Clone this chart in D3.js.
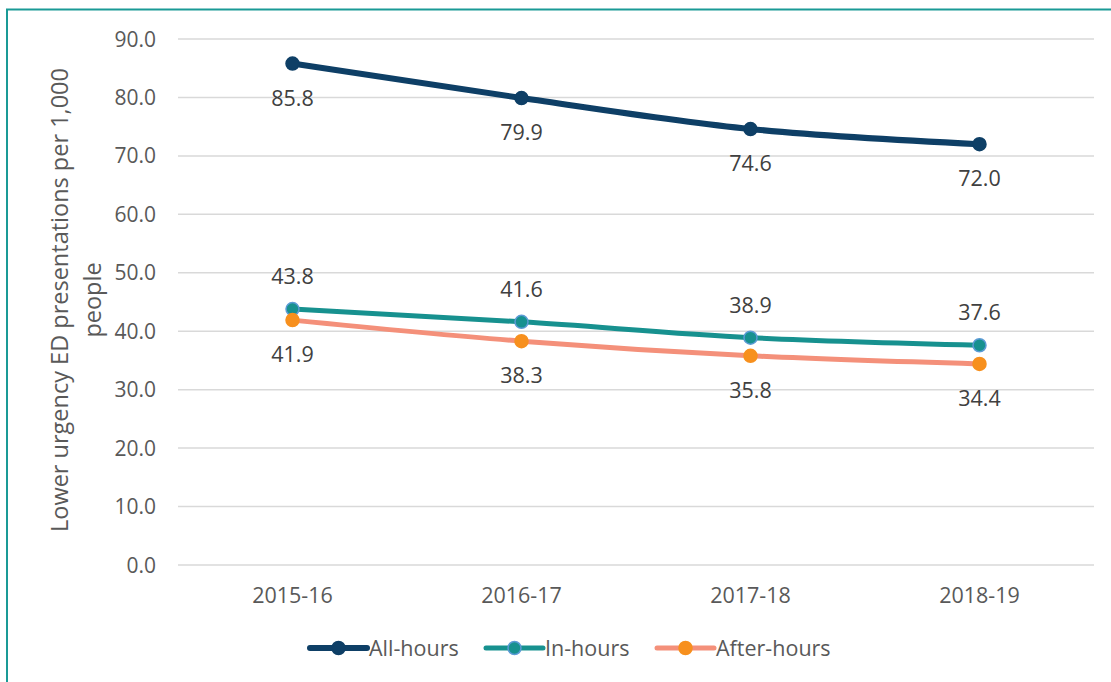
<!DOCTYPE html>
<html lang="en">
<head>
<meta charset="UTF-8">
<title>Lower urgency ED presentations</title>
<script src="https://d3js.org/d3.v7.min.js"></script>
<style>
    body { margin: 0; background: #fff; }
    text { font-family: "Open Sans", "Liberation Sans", sans-serif; fill: #595959; }
</style>
</head>
<body>
<div id="chart"></div>
<script>
const years = ["2015-16", "2016-17", "2017-18", "2018-19"];
const allHours = [85.8, 79.9, 74.6, 72.0];
const inHours = [43.8, 41.6, 38.9, 37.6];
const afterHours = [41.9, 38.3, 35.8, 34.4];
const yTicks = [0, 10, 20, 30, 40, 50, 60, 70, 80, 90];

const series = [
    { name: "All-hours", values: allHours, line: "#0e3f66", marker: "#0e3f66", stroke: "#0e3f66", width: 6, labelPos: "below" },
    { name: "In-hours", values: inHours, line: "#17918f", marker: "#17918f", stroke: "#5b9bd5", width: 5, labelPos: "above" },
    { name: "After-hours", values: afterHours, line: "#f4907a", marker: "#f7901e", stroke: "#f7901e", width: 5, labelPos: "below" }
];

const width = 1111, height = 682;
const svg = d3.select("#chart").append("svg")
    .attr("width", width)
    .attr("height", height);

// outer frame
svg.append("rect")
    .attr("x", 7).attr("y", 9.5)
    .attr("width", 1120).attr("height", 700)
    .attr("fill", "none")
    .attr("stroke", "#1a9a96")
    .attr("stroke-width", 2);

const x = d3.scaleBand().domain(years).range([178, 1094]);
const y = d3.scaleLinear().domain([0, 90]).range([565, 39]);

// grid
svg.append("g")
    .selectAll("line")
    .data(yTicks)
    .enter().append("line")
    .attr("x1", 178).attr("x2", 1094)
    .attr("y1", d => y(d)).attr("y2", d => y(d))
    .attr("stroke", "#d9d9d9")
    .attr("stroke-width", 1.5);

// y tick labels
svg.append("g")
    .selectAll("text")
    .data(yTicks)
    .enter().append("text")
    .attr("x", 156)
    .attr("y", d => y(d))
    .attr("dy", "0.36em")
    .attr("text-anchor", "end")
    .style("font-size", "21px")
    .text(d => d.toFixed(1));

// x tick labels
svg.append("g")
    .selectAll("text")
    .data(years)
    .enter().append("text")
    .attr("x", d => x(d) + x.bandwidth() / 2)
    .attr("y", 603)
    .attr("text-anchor", "middle")
    .style("font-size", "21.5px")
    .text(d => d);

// y axis title
const title = svg.append("text")
    .attr("transform", "translate(68, 300) rotate(-90)")
    .attr("text-anchor", "middle")
    .style("font-size", "23.5px");
title.append("tspan").attr("x", 0).attr("dy", 0).text("Lower urgency ED presentations per 1,000");
title.append("tspan").attr("x", 0).attr("dy", 33).text("people");

const cx = d => x(d) + x.bandwidth() / 2;

series.forEach(s => {
    const pts = s.values.map((v, i) => [cx(years[i]), y(v)]);
    svg.append("path")
        .attr("d", d3.line().curve(d3.curveMonotoneX)(pts))
        .attr("fill", "none")
        .attr("stroke", s.line)
        .attr("stroke-width", s.width)
        .attr("stroke-linecap", "round");
    svg.append("g")
        .selectAll("circle")
        .data(pts)
        .enter().append("circle")
        .attr("cx", d => d[0]).attr("cy", d => d[1])
        .attr("r", 6.5)
        .attr("fill", s.marker)
        .attr("stroke", s.stroke)
        .attr("stroke-width", 1.5);
    svg.append("g")
        .selectAll("text")
        .data(s.values)
        .enter().append("text")
        .attr("x", (d, i) => cx(years[i]))
        .attr("y", d => s.labelPos === "above" ? y(d) - 25 : y(d) + 42)
        .attr("text-anchor", "middle")
        .style("font-size", "21.5px")
        .style("fill", "#404040")
        .text(d => d.toFixed(1));
});

// legend
const legendX = [310, 486, 657];
series.forEach((s, i) => {
    const g = svg.append("g").attr("transform", `translate(${legendX[i]}, 648)`);
    g.append("line")
        .attr("x1", 0).attr("x2", 57)
        .attr("stroke", s.line)
        .attr("stroke-width", s.width)
        .attr("stroke-linecap", "round");
    g.append("circle")
        .attr("cx", 28.5).attr("r", 6.5)
        .attr("fill", s.marker)
        .attr("stroke", s.stroke)
        .attr("stroke-width", 1.5);
    g.append("text")
        .attr("x", 59).attr("dy", "0.36em")
        .style("font-size", "21.5px")
        .text(s.name);
});
</script>
</body>
</html>
